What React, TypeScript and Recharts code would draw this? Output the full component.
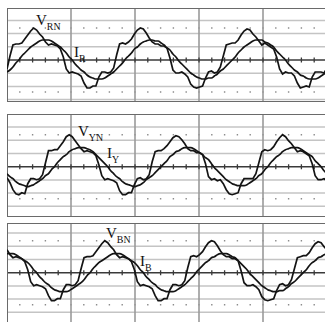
import { LineChart, Line, XAxis, YAxis, ReferenceLine } from "recharts";

// scope capture: 5 divisions of 10 ms, 36 samples per 60 Hz cycle
const SAMPLE_MS = 50 / 108;
const divisionsMs = [10, 20, 30, 40];
const gridLevels = [-52.8, -39.6, -26.4, -13.2, 13.2, 26.4, 39.6, 52.8];
const dotLevels = [-32, 32];

// phase R
const vRN = [
  -9, 4, 15, 16, 16, 17, 21, 25, 29, 32, 30, 26, 23, 18, 15, 16, 15, 14, 11, 3, -9, -13, -12, -13, -14, -16, -23, -28, -28, -26, -26, -17, -12, -12, -13, -12,
  -8, 5, 16, 17, 16, 18, 21, 26, 30, 32, 31, 27, 22, 18, 16, 16, 14, 14, 12, 2, -10, -13, -13, -12, -14, -17, -24, -27, -28, -27, -26, -18, -12, -11, -13, -12,
  -7, 4, 15, 16, 17, 17, 20, 25, 29, 31, 30, 26, 23, 19, 15, 17, 15, 13, 11, 3, -9, -14, -12, -13, -13, -16, -23, -28, -27, -26, -27, -17, -12, -12, -12, -13,
  -8,
];
const iR = [
  -12, -10, -7, -3, 0, 4, 7, 10, 13, 15, 17, 19, 20, 20, 20, 19, 17, 15, 13, 10, 7, 3, 0, -4, -7, -10, -12, -15, -17, -18, -19, -19, -19, -18, -16, -14,
  -12, -9, -6, -3, 1, 4, 7, 11, 13, 16, 18, 19, 20, 20, 19, 19, 17, 15, 12, 10, 6, 3, -1, -4, -7, -10, -13, -15, -17, -18, -19, -19, -18, -18, -16, -14,
  -11, -9, -6, -3, 0, 3, 7, 10, 13, 15, 17, 19, 20, 20, 20, 18, 17, 15, 13, 9, 6, 3, 0, -4, -7, -10, -12, -15, -16, -18, -19, -19, -19, -18, -16, -14,
  -12,
];

// phase Y
const vYN = [
  -11, -16, -23, -27, -28, -26, -27, -17, -12, -12, -13, -12,
  -8, 4, 16, 16, 17, 17, 21, 25, 30, 32, 30, 26, 22, 18, 15, 16, 15, 14, 11, 2, -9, -13, -12, -13, -14, -16, -24, -28, -28, -26, -26, -18, -12, -11, -13, -12,
  -8, 5, 15, 16, 16, 18, 21, 25, 29, 31, 30, 27, 23, 18, 16, 16, 14, 14, 12, 3, -10, -13, -12, -14, -13, -17, -23, -27, -28, -27, -26, -17, -12, -12, -12, -12,
  -7, 4, 15, 17, 16, 17, 20, 25, 29, 32, 30, 26, 23, 19, 15, 16, 15, 13, 11, 3, -9, -13, -13, -12, -14,
];
const iY = [
  -7, -10, -12, -15, -17, -18, -19, -20, -19, -18, -16, -14,
  -12, -9, -7, -3, 0, 4, 7, 10, 12, 15, 17, 18, 19, 19, 19, 18, 17, 15, 12, 9, 6, 3, 0, -4, -7, -10, -12, -15, -17, -18, -19, -20, -19, -18, -16, -13,
  -11, -9, -6, -3, 0, 3, 6, 10, 12, 15, 16, 18, 19, 19, 19, 18, 16, 14, 12, 9, 7, 3, -1, -4, -7, -10, -13, -15, -17, -18, -19, -19, -19, -18, -16, -14,
  -12, -9, -7, -3, 0, 4, 7, 10, 12, 15, 17, 18, 19, 19, 19, 18, 16, 14, 12, 10, 6, 3, 0, -4, -7,
];

// phase B
const vBN = [
  23, 18, 15, 16, 15, 14, 11, 3, -9, -13, -12, -13, -14, -16, -23, -28, -28, -26, -26, -17, -12, -12, -13, -12,
  -8, 4, 15, 16, 16, 17, 21, 25, 29, 32, 30, 26, 23, 18, 15, 16, 15, 14, 11, 3, -9, -13, -12, -13, -14, -16, -23, -28, -28, -26, -26, -17, -12, -12, -13, -12,
  -8, 5, 16, 17, 16, 18, 21, 26, 30, 32, 31, 27, 22, 18, 16, 16, 14, 14, 12, 2, -10, -13, -13, -12, -14, -17, -24, -27, -28, -27, -26, -18, -12, -11, -13, -12,
  -7, 4, 15, 16, 17, 17, 20, 25, 29, 31, 30, 26, 23,
];
const iB = [
  19, 19, 19, 18, 16, 14, 12, 10, 7, 3, 0, -4, -7, -10, -12, -15, -17, -18, -19, -19, -19, -18, -16, -14,
  -12, -10, -7, -3, 0, 4, 7, 10, 12, 14, 16, 18, 19, 19, 19, 18, 16, 14, 12, 10, 7, 3, 0, -4, -7, -10, -12, -15, -17, -18, -19, -19, -19, -18, -16, -14,
  -12, -9, -6, -3, 1, 4, 7, 10, 12, 15, 16, 18, 19, 19, 19, 18, 16, 15, 12, 9, 6, 3, -1, -4, -7, -10, -13, -15, -17, -18, -19, -19, -18, -18, -16, -14,
  -11, -9, -6, -3, 0, 3, 7, 10, 12, 15, 16, 18, 19,
];

const TRACE = "#141414";

function Panel({
  v,
  cur,
  top,
  height,
  domain,
  bottomBorder,
}: {
  v: number[];
  cur: number[];
  top: number;
  height: number;
  domain: [number, number];
  bottomBorder: boolean;
}) {
  const data = v.map((val, k) => ({ t: k * SAMPLE_MS, v: val, i: cur[k] }));
  const inside = (y: number) => y > domain[0] + 1 && y < domain[1] - 1;

  return (
    <div style={{ position: "absolute", left: 7, top }}>
      <LineChart width={320} height={height} data={data} margin={{ top: 0, right: 0, bottom: 0, left: 0 }}>
        <XAxis dataKey="t" type="number" domain={[0, 50]} hide allowDataOverflow />
        <YAxis type="number" domain={domain} hide allowDataOverflow />
        {gridLevels.filter(inside).map((y) => (
          <ReferenceLine key={"g" + y} y={y} stroke="#c4c4c4" strokeWidth={1.5} />
        ))}
        {dotLevels.filter(inside).map((y) => (
          <ReferenceLine
            key={"d" + y}
            y={y}
            stroke="#8c8c8c"
            strokeWidth={1.6}
            strokeDasharray="1.4 11.4"
            strokeDashoffset={0.7}
          />
        ))}
        {divisionsMs.map((x) => (
          <ReferenceLine key={"x" + x} x={x} stroke="#9a9a9a" strokeWidth={1.6} />
        ))}
        <ReferenceLine y={0} stroke="#3a3a3a" strokeWidth={1.5} />
        <ReferenceLine y={0} stroke="#3a3a3a" strokeWidth={5} strokeDasharray="1.3 11.5" strokeDashoffset={0.65} />
        <ReferenceLine x={0} stroke="#6a6a6a" strokeWidth={2} />
        <ReferenceLine y={domain[1]} stroke="#6a6a6a" strokeWidth={2} />
        {bottomBorder && <ReferenceLine y={domain[0]} stroke="#6a6a6a" strokeWidth={2} />}
        <Line
          type="monotone"
          dataKey="i"
          stroke={TRACE}
          strokeWidth={1.7}
          dot={false}
          isAnimationActive={false}
        />
        <Line
          type="linear"
          dataKey="v"
          stroke={TRACE}
          strokeWidth={1.7}
          dot={false}
          isAnimationActive={false}
        />
      </LineChart>
    </div>
  );
}

function Label({ x, y, main, sub, size }: { x: number; y: number; main: string; sub: string; size: number }) {
  return (
    <text x={x} y={y} fontSize={size} fill="#111">
      {main}
      <tspan fontSize={size * 0.66} dy={5}>
        {sub}
      </tspan>
    </text>
  );
}

export default function App() {
  return (
    <div
      style={{
        position: "absolute",
        left: 0,
        top: 0,
        width: 325,
        height: 322,
        overflow: "hidden",
        background: "#fff",
      }}
    >
      <Panel v={vRN} cur={iR} top={8} height={94} domain={[-42, 52]} bottomBorder />
      <Panel v={vYN} cur={iY} top={114} height={103} domain={[-50.3, 52.7]} bottomBorder />
      <Panel v={vBN} cur={iB} top={223} height={108} domain={[-58.3, 49.7]} bottomBorder={false} />
      <svg
        width={325}
        height={322}
        style={{ position: "absolute", left: 0, top: 0, pointerEvents: "none" }}
        fontFamily="'Liberation Serif', 'DejaVu Serif', serif"
      >
        <Label x={36} y={25} main="V" sub="RN" size={15} />
        <Label x={74} y={57} main="I" sub="R" size={15} />
        <Label x={78} y={136} main="V" sub="YN" size={15} />
        <Label x={107} y={158} main="I" sub="Y" size={15} />
        <Label x={106} y={238} main="V" sub="BN" size={15} />
        <Label x={140} y={266} main="I" sub="B" size={15} />
      </svg>
    </div>
  );
}
